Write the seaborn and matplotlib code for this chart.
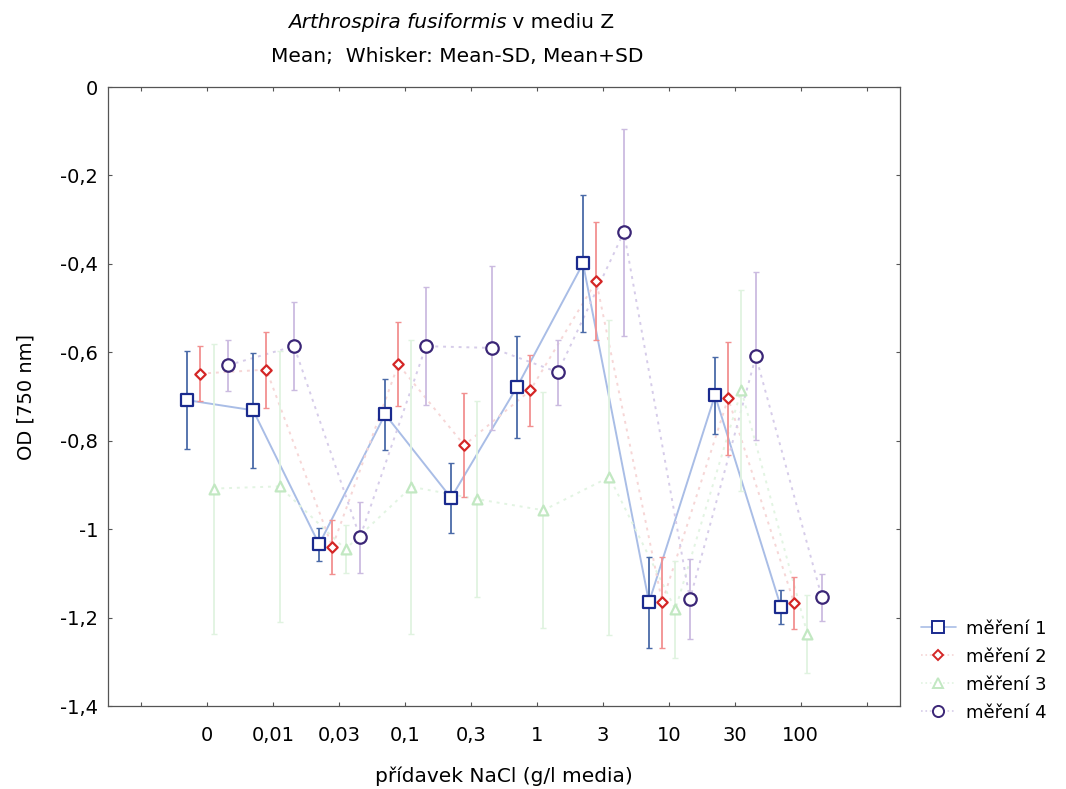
import matplotlib
matplotlib.use("Agg")
import matplotlib.pyplot as plt
from matplotlib.lines import Line2D
import numpy as np
import pandas as pd
import seaborn as sns

# NaCl additions (g/l medium)
categories = ["0", "0,01", "0,03", "0,1", "0,3", "1", "3", "10", "30", "100"]
series_names = ["měření 1", "měření 2", "měření 3", "měření 4"]

# OD at 750 nm: means and standard deviations per measurement
mean_1 = [-0.708, -0.731, -1.034, -0.740, -0.929, -0.678, -0.399, -1.165, -0.697, -1.176]
sd_1 = [0.110, 0.130, 0.037, 0.080, 0.079, 0.115, 0.155, 0.103, 0.087, 0.038]
mean_2 = [-0.648, -0.639, -1.040, -0.627, -0.810, -0.686, -0.439, -1.165, -0.704, -1.167]
sd_2 = [0.062, 0.086, 0.062, 0.095, 0.117, 0.080, 0.133, 0.103, 0.127, 0.059]
mean_3 = [-0.908, -0.903, -1.045, -0.904, -0.932, -0.957, -0.882, -1.181, -0.686, -1.236]
sd_3 = [0.328, 0.307, 0.055, 0.332, 0.221, 0.267, 0.356, 0.110, 0.227, 0.088]
mean_4 = [-0.629, -0.586, -1.018, -0.586, -0.590, -0.645, -0.328, -1.158, -0.609, -1.154]
sd_4 = [0.058, 0.100, 0.080, 0.133, 0.185, 0.073, 0.234, 0.090, 0.190, 0.053]

means = [mean_1, mean_2, mean_3, mean_4]
sds = [sd_1, sd_2, sd_3, sd_4]

offsets = [-0.3, -0.1, 0.1, 0.32]
marker_shapes = ["s", "D", "^", "o"]
marker_sizes = [80, 28, 50, 80]
marker_colors = ["#1a2a8e", "#d42626", "#c2e8c2", "#3b2677"]
err_colors = ["#4a6aa8", "#f29090", "#e0f3e0", "#cbbbe0"]
line_colors = ["#a9bde6", "#f6d6d6", "#e2f4e2", "#d6cce9"]
dash_styles = ["", (1.5, 2.5), (1.5, 2.5), (1.5, 2.5)]

rows = []
for name, m, sd, off in zip(series_names, means, sds, offsets):
    for i, (v, s) in enumerate(zip(m, sd)):
        rows.append({"series": name, "pos": i + off, "mean": v, "sd": s})
df = pd.DataFrame(rows)

sns.set_style("ticks")
plt.rcParams["font.family"] = ["DejaVu Sans"]
plt.rcParams["text.color"] = "black"
plt.rcParams["axes.labelcolor"] = "black"
plt.rcParams["xtick.labelcolor"] = "black"
plt.rcParams["ytick.labelcolor"] = "black"
FS = 14

fig = plt.figure(figsize=(10.66, 7.89), dpi=100)
ax = fig.add_axes([0.1013, 0.105, 0.7427, 0.7847])

# connecting lines
for k, name in enumerate(series_names):
    sub = df[df.series == name]
    sns.lineplot(data=sub, x="pos", y="mean", ax=ax, color=line_colors[k],
                 linewidth=1.4, sort=False, legend=False, errorbar=None,
                 dashes=False, zorder=1)
    if dash_styles[k]:
        ax.lines[-1].set_dashes(dash_styles[k])

# whiskers: mean ± SD
for k, name in enumerate(series_names):
    sub = df[df.series == name]
    ax.errorbar(sub["pos"], sub["mean"], yerr=sub["sd"], fmt="none",
                ecolor=err_colors[k], elinewidth=1.3, capsize=2.5,
                capthick=1.0, zorder=2)

# means
for k, name in enumerate(series_names):
    sub = df[df.series == name]
    sns.scatterplot(data=sub, x="pos", y="mean", ax=ax, marker=marker_shapes[k],
                    s=marker_sizes[k], facecolor="white",
                    edgecolor=marker_colors[k], linewidth=1.6, zorder=3,
                    legend=False)

ax.set_xlim(-1.5, 10.5)
ax.set_ylim(-1.4, 0)
ax.set_xticks(range(-1, 11))
ax.set_xticklabels([""] + categories + [""])
yt = np.round(np.arange(0, -1.41, -0.2), 1)
ax.set_yticks(yt)
ax.set_yticklabels(["0" if v == 0 else f"{v:g}".replace(".", ",") for v in yt])
ax.tick_params(direction="in", length=3, width=0.8, color="#555555",
               top=True, right=True, labelsize=FS)
ax.tick_params(axis="x", pad=14)
ax.tick_params(axis="y", pad=7)
for sp in ax.spines.values():
    sp.set_color("#555555")
    sp.set_linewidth(0.9)

ax.set_xlabel("přídavek NaCl (g/l media)", fontsize=FS + 0.5, labelpad=16)
ax.set_ylabel("OD [750 nm]", fontsize=FS, labelpad=18)

fig.text(0.475, 0.972, "Arthrospira fusiformis", ha="right", va="center",
         fontsize=FS + 0.5, style="italic")
fig.text(0.475, 0.972, " v mediu Z", ha="left", va="center", fontsize=FS + 0.5)
fig.text(0.4285, 0.928, "Mean;  Whisker: Mean-SD, Mean+SD",
         ha="center", va="center", fontsize=FS + 0.5)

handles = []
for k, name in enumerate(series_names):
    ls = "-" if k == 0 else ":"
    handles.append(Line2D([0], [0], color=line_colors[k], linestyle=ls,
                          linewidth=1.2, marker=marker_shapes[k],
                          markersize=[8, 5, 7, 8][k],
                          markerfacecolor="white",
                          markeredgecolor=marker_colors[k],
                          markeredgewidth=1.4, label=name))
fig.legend(handles=handles, loc="center left", bbox_to_anchor=(0.849, 0.150),
           frameon=False, fontsize=FS - 1, handlelength=1.9, labelspacing=0.55,
           handletextpad=0.6)

fig.savefig("out.png", dpi=100)
